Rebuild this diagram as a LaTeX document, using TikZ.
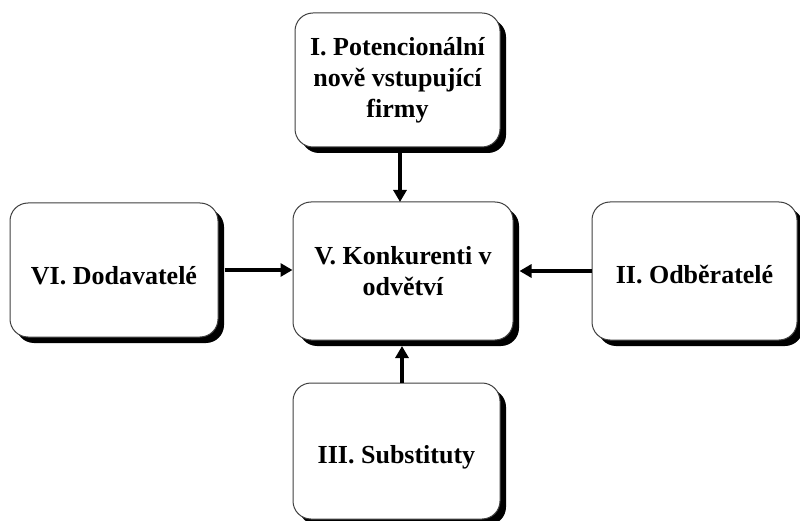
\documentclass[tikz,border=0pt]{standalone}
\usepackage{fontspec}
\setmainfont{Liberation Serif}
\usetikzlibrary{arrows.meta,shadows,calc}
\begin{document}
\begin{tikzpicture}[x=1pt,y=1pt,
  box/.style={draw=black!75, line width=1pt, fill=white, rounded corners=18pt,
    align=center, inner sep=0pt,
    font=\fontsize{26}{31}\selectfont\bfseries,
    drop shadow={shadow xshift=6pt, shadow yshift=-6pt, fill=black, opacity=1}},
  arr/.style={line width=3.5pt, -{Triangle[length=12pt,width=13pt]}}]
\useasboundingbox (0,0) rectangle (800,-521);
\node[box, minimum width=205pt, minimum height=134pt] (top) at (397.5,-80) {I. Potencionální\\nově vstupující\\firmy};
\node[box, minimum width=208pt, minimum height=134pt] (left) at (114,-270) {\raisebox{-6pt}[\height][\depth]{VI. Dodavatelé}};
\node[box, minimum width=220pt, minimum height=138pt] (center) at (403,-271) {V. Konkurenti v\\odvětví};
\node[box, minimum width=205pt, minimum height=138pt] (right) at (694.5,-271) {\raisebox{-4pt}[\height][\depth]{II. Odběratelé}};
\node[box, minimum width=207pt, minimum height=136pt] (bottom) at (396.5,-451) {\raisebox{-6pt}[\height][\depth]{III. Substituty}};
\coordinate (ta) at (400,-147);
\coordinate (tb) at (400,-202);
\coordinate (ba) at (402,-383);
\coordinate (bb) at (402,-340);
\draw[arr, shorten <=6pt] (ta) -- (tb);
\draw[arr, shorten <=6pt] (left.east) -- (left.east -| center.west);
\draw[arr, shorten >=6pt] (right.west) -- (right.west -| center.east);
\draw[arr, shorten >=6pt] (ba) -- (bb);
\end{tikzpicture}
\end{document}
